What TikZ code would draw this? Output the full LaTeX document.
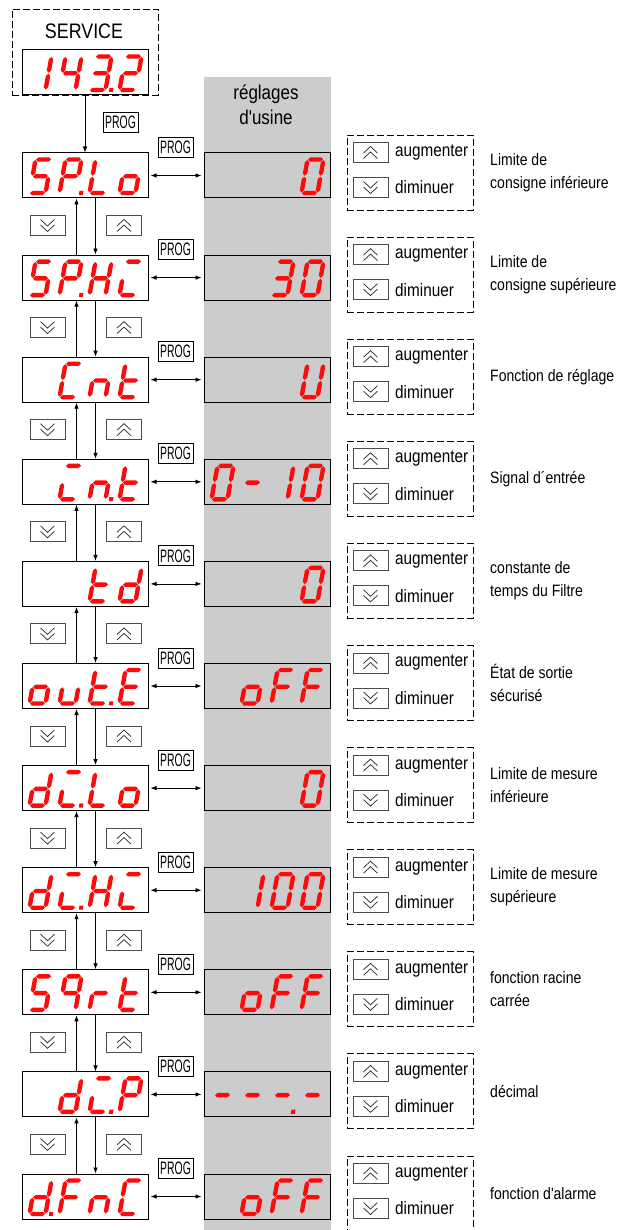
\documentclass[tikz,border=0pt]{standalone}
\usepackage{fontspec}
\setmainfont{Liberation Sans}[FakeStretch=0.85,Ligatures=TeXOff]
\newfontfamily\progfont{Liberation Sans}[FakeStretch=0.58]
\usetikzlibrary{arrows.meta,calc}

\definecolor{ledred}{HTML}{FF0A0A}
\definecolor{panelgrey}{HTML}{CCCCCC}

% ---- seven-segment glyphs (local units: pt, y grows downwards) ----
\newcommand\hw{2.2}
\newcommand\hsg[3]{\fill[ledred] (#1,#3) -- ({#1+\hw},{#3-\hw}) -- ({#2-\hw},{#3-\hw}) -- (#2,#3) -- ({#2-\hw},{#3+\hw}) -- ({#1+\hw},{#3+\hw}) -- cycle;}
\newcommand\vsg[3]{\fill[ledred] (#1,#2) -- ({#1+\hw},{#2+\hw}) -- ({#1+\hw},{#3-\hw}) -- (#1,#3) -- ({#1-\hw},{#3-\hw}) -- ({#1-\hw},{#2+\hw}) -- cycle;}
\newcommand\sga{\hsg{0.5}{15.5}{-33.5}}
\newcommand\sgg{\hsg{0.5}{15.5}{-16.75}}
\newcommand\sgd{\hsg{0.5}{15.5}{0}}
\newcommand\sgf{\vsg{0}{-33}{-17.25}}
\newcommand\sgb{\vsg{16}{-33}{-17.25}}
\newcommand\sge{\vsg{0}{-16.25}{-0.5}}
\newcommand\sgc{\vsg{16}{-16.25}{-0.5}}
\newcommand\sgp{\fill[ledred] (19.6,-2.2) rectangle (23.6,1.9);}

% characters as segment lists
\def\syS{a,f,g,c,d}
\def\syP{a,b,f,g,e}
\def\syL{f,e,d}
\def\syo{g,c,d,e}
\def\syH{f,b,g,e,c}
\def\syi{a,e,d}
\def\syC{a,f,e,d}
\def\syn{e,g,c}
\def\syt{f,g,e,d}
\def\syd{b,c,d,e,g}
\def\syu{e,d,c}
\def\syE{a,f,g,e,d}
\def\syq{a,b,f,g,c}
\def\syr{e,g}
\def\syF{a,f,g,e}
\def\syU{b,c,d,e,f}
\def\syzero{a,b,c,d,e,f}
\def\syone{b,c}
\def\sytwo{a,b,g,e,d}
\def\sythree{a,b,g,c,d}
\def\syfour{f,g,b,c}
\def\sydash{g}

% one digit cell of a 4-digit display: node, position 0..3, glyph, decimal point
\newcommand\cell[4]{%
  \begin{scope}[shift={($(#1.north west)+({8+30*#2},40.5)$)},xslant=0.18]
    \foreach \s in #3 {\csname sg\s\endcsname}
    \ifnum#4=1 \sgp\fi
  \end{scope}}

\tikzset{
  disp/.style={draw, line width=1pt, minimum width=126pt, minimum height=45pt, inner sep=0pt, fill=white},
  gdisp/.style={disp, fill=panelgrey},
  progbox/.style={draw, line width=0.9pt, fill=white, inner sep=0pt, minimum width=35pt, minimum height=20pt,
    font=\progfont\fontsize{18}{18}\selectfont},
  keybox/.style={draw=black!70, line width=0.9pt, minimum width=35pt, minimum height=20pt, inner sep=0pt, fill=white},
  dashbox/.style={draw, line width=0.9pt, dash pattern=on 7pt off 3pt, minimum width=126pt, minimum height=75pt, inner sep=0pt},
  link/.style={line width=0.8pt, -{Latex[length=6pt,width=4.5pt]}},
  biarrow/.style={line width=0.8pt, {Latex[length=6pt,width=4.5pt]}-{Latex[length=6pt,width=4.5pt]},
    shorten <=2pt, shorten >=2pt},
  chev/.style={line width=0.7pt, black!85},
  keytext/.style={anchor=west, inner sep=0pt, font=\fontsize{18}{20}\selectfont},
  desc/.style={anchor=west, inner sep=0pt, align=left, font=\fontsize{16.5}{23}\selectfont},
  upchev/.pic={\draw[chev] (-7,0.5) -- (0,-6) -- (7,0.5); \draw[chev] (-7,6) -- (0,-0.5) -- (7,6);},
  downchev/.pic={\draw[chev] (-7,-0.5) -- (0,6) -- (7,-0.5); \draw[chev] (-7,-6) -- (0,0.5) -- (7,-6);},
}

% one menu level: index, vertical centre, description
\newcommand\level[3]{%
  \node[disp] (L#1) at (85,#2) {};
  \node[gdisp] (R#1) at (267,#2) {};
  \node[progbox] (P#1) at (175.5,{#2-28}) {PROG};
  \draw[biarrow] (L#1) -- (R#1);
  \node[dashbox] (D#1) at (410,{#2-3}) {};
  \node[keybox] (Ku#1) at (370.5,{#2-23}) {};
  \pic at (Ku#1) {upchev};
  \node[keybox] (Kd#1) at (370.5,{#2+12}) {};
  \pic at (Kd#1) {downchev};
  \node[keytext] (Tu#1) at (395,{#2-23}) {augmenter};
  \node[keytext] (Td#1) at (395,{#2+12}) {diminuer};
  \node[desc] (X#1) at (490,{#2-3}) {#3};
}

\begin{document}
\begin{tikzpicture}[x=1pt,y=-1pt,line join=miter]
\useasboundingbox (0,0) rectangle (626,1230);
\clip (0,0) rectangle (626,1230);
\fill[white] (0,0) rectangle (626,1230);

% factory settings column
\fill[panelgrey] (204,77) rectangle (331,1230);
\node[align=center, font=\fontsize{20}{25}\selectfont] (hdr) at (266,105) {réglages\\d'usine};

% service level
\node[dashbox, minimum width=146pt, minimum height=86pt] (svc) at (85,52) {};
\node[font=\fontsize{21}{21}\selectfont, inner sep=0pt] (svct) at (84,31) {SERVICE};
\node[disp] (S0) at (85,72.5) {};
\cell{S0}{0}{\syone}{0}
\cell{S0}{1}{\syfour}{0}
\cell{S0}{2}{\sythree}{1}
\cell{S0}{3}{\sytwo}{0}
\node[progbox] (P0) at (120.5,122) {PROG};

% parameter levels
\level{1}{175.5}{Limite de\\consigne inférieure}
\level{2}{277.6}{Limite de\\consigne supérieure}
\level{3}{379.7}{Fonction de réglage}
\level{4}{481.8}{Signal d´entrée}
\level{5}{583.9}{constante de\\temps du Filtre}
\level{6}{686.0}{État de sortie\\sécurisé}
\level{7}{788.1}{Limite de mesure\\inférieure}
\level{8}{890.2}{Limite de mesure\\supérieure}
\level{9}{992.3}{fonction racine\\carrée}
\level{10}{1094.4}{décimal}
\level{11}{1196.5}{fonction d'alarme}

\draw[link] (S0) -- (L1);

% navigation between levels
\foreach \i/\j in {1/2,2/3,3/4,4/5,5/6,6/7,7/8,8/9,9/10,10/11}{
  \draw[link] ($(L\j.north west)+(55,0)$) -- ($(L\i.south west)+(55,0)$);
  \draw[link] ($(L\i.south west)+(74,0)$) -- ($(L\j.north west)+(74,0)$);
  \node[keybox] (Bd\i) at ($(L\i.south west)+(26,27)$) {};
  \pic at (Bd\i) {downchev};
  \node[keybox] (Bu\i) at ($(L\i.south west)+(102.5,27)$) {};
  \pic at (Bu\i) {upchev};
}

% left displays
\cell{L1}{0}{\syS}{0}\cell{L1}{1}{\syP}{1}\cell{L1}{2}{\syL}{0}\cell{L1}{3}{\syo}{0}
\cell{L2}{0}{\syS}{0}\cell{L2}{1}{\syP}{1}\cell{L2}{2}{\syH}{0}\cell{L2}{3}{\syi}{0}
\cell{L3}{1}{\syC}{0}\cell{L3}{2}{\syn}{0}\cell{L3}{3}{\syt}{0}
\cell{L4}{1}{\syi}{0}\cell{L4}{2}{\syn}{1}\cell{L4}{3}{\syt}{0}
\cell{L5}{2}{\syt}{0}\cell{L5}{3}{\syd}{0}
\cell{L6}{0}{\syo}{0}\cell{L6}{1}{\syu}{0}\cell{L6}{2}{\syt}{1}\cell{L6}{3}{\syE}{0}
\cell{L7}{0}{\syd}{0}\cell{L7}{1}{\syi}{1}\cell{L7}{2}{\syL}{0}\cell{L7}{3}{\syo}{0}
\cell{L8}{0}{\syd}{0}\cell{L8}{1}{\syi}{1}\cell{L8}{2}{\syH}{0}\cell{L8}{3}{\syi}{0}
\cell{L9}{0}{\syS}{0}\cell{L9}{1}{\syq}{0}\cell{L9}{2}{\syr}{0}\cell{L9}{3}{\syt}{0}
\cell{L10}{1}{\syd}{0}\cell{L10}{2}{\syi}{1}\cell{L10}{3}{\syP}{0}
\cell{L11}{0}{\syd}{1}\cell{L11}{1}{\syF}{0}\cell{L11}{2}{\syn}{0}\cell{L11}{3}{\syC}{0}

% factory values
\cell{R1}{3}{\syzero}{0}
\cell{R2}{2}{\sythree}{0}\cell{R2}{3}{\syzero}{0}
\cell{R3}{3}{\syU}{0}
\cell{R4}{0}{\syzero}{0}\cell{R4}{1}{\sydash}{0}\cell{R4}{2}{\syone}{0}\cell{R4}{3}{\syzero}{0}
\cell{R5}{3}{\syzero}{0}
\cell{R6}{1}{\syo}{0}\cell{R6}{2}{\syF}{0}\cell{R6}{3}{\syF}{0}
\cell{R7}{3}{\syzero}{0}
\cell{R8}{1}{\syone}{0}\cell{R8}{2}{\syzero}{0}\cell{R8}{3}{\syzero}{0}
\cell{R9}{1}{\syo}{0}\cell{R9}{2}{\syF}{0}\cell{R9}{3}{\syF}{0}
\cell{R10}{0}{\sydash}{0}\cell{R10}{1}{\sydash}{0}\cell{R10}{2}{\sydash}{1}\cell{R10}{3}{\sydash}{0}
\cell{R11}{1}{\syo}{0}\cell{R11}{2}{\syF}{0}\cell{R11}{3}{\syF}{0}
\end{tikzpicture}
\end{document}
